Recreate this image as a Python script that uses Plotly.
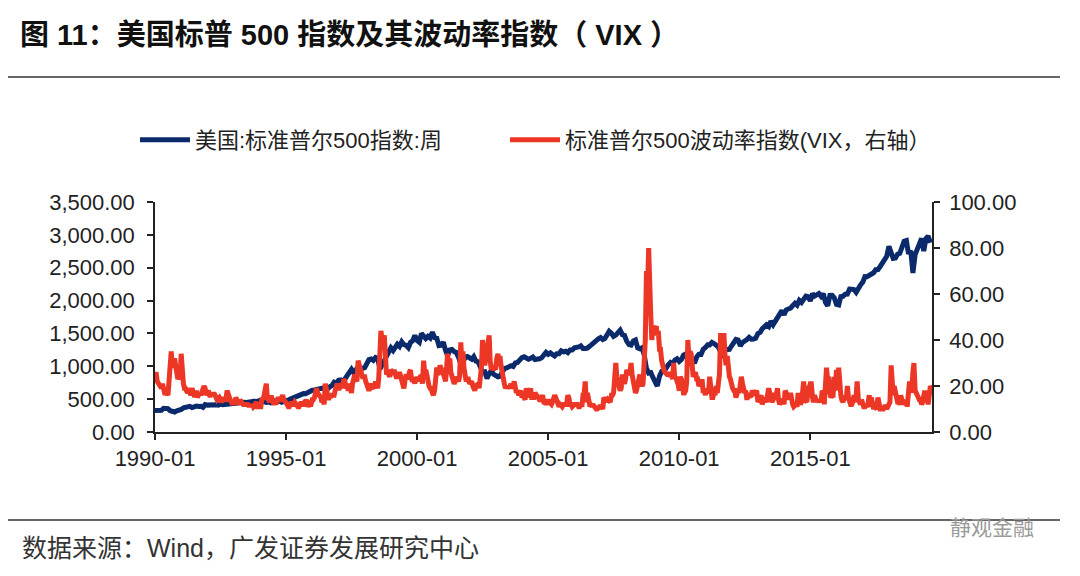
import pandas as pd
import plotly.graph_objects as go

# S&P 500, monthly readings 1990-01 .. 2019-08
spx = [
    329, 331, 339, 331, 361, 358, 356, 323, 306, 304, 322, 330,
    343, 367, 375, 375, 390, 371, 387, 395, 388, 392, 375, 417,
    409, 413, 404, 415, 415, 408, 424, 414, 418, 419, 431, 436,
    439, 443, 452, 440, 450, 451, 448, 464, 459, 468, 462, 466,
    482, 467, 446, 451, 457, 444, 458, 475, 463, 472, 454, 459,
    470, 487, 501, 515, 533, 545, 562, 562, 584, 582, 605, 616,
    636, 640, 646, 654, 669, 671, 640, 652, 687, 705, 757, 741,
    786, 791, 757, 801, 848, 885, 954, 899, 947, 915, 955, 970,
    980, 1049, 1102, 1112, 1091, 1134, 1121, 957, 1017, 1099, 1164, 1229,
    1280, 1238, 1286, 1335, 1302, 1373, 1329, 1320, 1283, 1363, 1389, 1469,
    1394, 1366, 1499, 1452, 1421, 1455, 1431, 1518, 1437, 1429, 1315, 1320,
    1366, 1240, 1160, 1249, 1256, 1224, 1211, 1134, 1041, 1060, 1139, 1148,
    1130, 1107, 1147, 1077, 1067, 990, 912, 916, 815, 886, 936, 880,
    856, 841, 848, 917, 964, 975, 990, 1008, 996, 1051, 1058, 1112,
    1131, 1145, 1126, 1107, 1121, 1141, 1102, 1104, 1115, 1130, 1174, 1212,
    1181, 1204, 1181, 1157, 1192, 1191, 1234, 1220, 1229, 1207, 1249, 1248,
    1280, 1281, 1295, 1311, 1270, 1270, 1277, 1304, 1336, 1378, 1401, 1418,
    1438, 1407, 1421, 1482, 1531, 1503, 1455, 1474, 1527, 1549, 1481, 1468,
    1379, 1331, 1323, 1386, 1400, 1280, 1267, 1283, 1166, 969, 896, 903,
    826, 735, 700, 850, 919, 919, 987, 1021, 1057, 1036, 1096, 1115,
    1074, 1104, 1169, 1187, 1089, 1031, 1102, 1049, 1141, 1183, 1181, 1258,
    1286, 1327, 1326, 1364, 1345, 1321, 1292, 1219, 1131, 1253, 1247, 1258,
    1312, 1366, 1408, 1398, 1310, 1362, 1379, 1407, 1441, 1412, 1416, 1426,
    1498, 1515, 1569, 1598, 1631, 1606, 1686, 1633, 1682, 1757, 1806, 1848,
    1783, 1859, 1872, 1884, 1924, 1960, 1931, 2003, 1972, 2018, 2068, 2059,
    1995, 2105, 2068, 2086, 2107, 2063, 2104, 1972, 1920, 2079, 2080, 2044,
    1940, 1932, 2060, 2065, 2097, 2099, 2174, 2171, 2168, 2126, 2199, 2239,
    2279, 2364, 2363, 2384, 2412, 2423, 2470, 2472, 2519, 2575, 2648, 2674,
    2824, 2714, 2641, 2648, 2705, 2718, 2816, 2902, 2914, 2712, 2760, 2420,
    2700, 2784, 2834, 2946, 2752, 2942, 2980, 2880,
]

# VIX, two readings per month 1990-01 .. 2019-08
vix = [
    24, 26, 22, 21, 20, 20, 19, 21, 18, 17, 17, 17, 16, 22, 30, 35, 28, 30, 32, 29, 26, 23, 24, 23,
    34, 22, 21, 19, 19, 18, 17, 19, 18, 16, 19, 17, 16, 16, 18, 15, 17, 17, 16, 18, 20, 20, 19, 16,
    17, 18, 16, 16, 17, 16, 17, 15, 15, 14, 15, 15, 14, 13, 14, 15, 14, 14, 18, 16, 14, 14, 13, 12,
    13, 12, 15, 14, 13, 12, 14, 13, 13, 12, 12, 12, 12, 12, 11, 12, 11, 12, 11, 12, 13, 13, 11, 11,
    11, 11, 15, 14, 16, 19, 21, 15, 14, 13, 15, 15, 13, 12, 13, 12, 14, 15, 14, 14, 15, 16, 14, 13,
    12, 12, 11, 11, 12, 13, 12, 12, 13, 12, 12, 11, 11, 13, 13, 12, 12, 13, 13, 14, 11, 12, 12, 12,
    14, 14, 15, 17, 19, 17, 16, 15, 15, 13, 14, 12, 21, 19, 15, 14, 16, 15, 16, 16, 16, 18, 20, 21,
    19, 19, 20, 21, 19, 23, 22, 19, 20, 18, 21, 19, 17, 21, 24, 25, 23, 22, 31, 29, 27, 24, 24, 24,
    24, 22, 20, 19, 18, 19, 21, 20, 19, 19, 22, 20, 19, 23, 34, 44, 40, 40, 42, 29, 25, 26, 25, 24,
    27, 26, 26, 27, 24, 24, 24, 24, 26, 24, 23, 21, 19, 22, 25, 24, 23, 26, 27, 23, 22, 23, 21, 24,
    22, 24, 23, 24, 24, 21, 31, 26, 27, 25, 20, 20, 19, 19, 17, 16, 18, 21, 28, 25, 26, 29, 28, 26,
    25, 24, 22, 26, 34, 28, 32, 26, 24, 22, 21, 22, 24, 23, 22, 24, 39, 31, 35, 28, 24, 22, 23, 23,
    21, 22, 22, 20, 19, 18, 20, 21, 21, 19, 25, 28, 40, 32, 29, 32, 36, 39, 42, 31, 27, 28, 27, 28,
    28, 32, 34, 29, 33, 29, 25, 21, 21, 19, 20, 19, 20, 19, 21, 19, 20, 22, 19, 17, 18, 16, 17, 18,
    15, 16, 15, 14, 19, 16, 15, 17, 19, 15, 15, 15, 17, 16, 15, 15, 14, 14, 15, 16, 13, 13, 12, 13,
    14, 13, 12, 12, 13, 14, 16, 15, 14, 13, 11, 12, 11, 11, 12, 12, 12, 12, 16, 15, 12, 12, 11, 12,
    12, 12, 12, 12, 11, 11, 12, 11, 16, 16, 22, 13, 17, 14, 12, 12, 11, 12, 11, 11, 10, 10, 11, 11,
    11, 11, 10, 15, 14, 15, 13, 14, 13, 13, 16, 16, 17, 24, 30, 24, 21, 18, 18, 19, 25, 22, 21, 23,
    27, 26, 25, 26, 30, 25, 22, 20, 17, 18, 22, 23, 25, 22, 20, 21, 31, 40, 70, 60, 80, 55, 50, 40,
    46, 44, 46, 46, 42, 44, 36, 36, 31, 28, 27, 26, 25, 25, 25, 26, 24, 25, 23, 30, 23, 24, 22, 21,
    18, 24, 23, 19, 17, 17, 18, 22, 40, 32, 35, 34, 26, 24, 25, 26, 23, 23, 20, 21, 20, 23, 17, 18,
    16, 19, 17, 18, 24, 17, 15, 15, 17, 16, 20, 17, 20, 25, 43, 35, 38, 43, 33, 29, 33, 27, 24, 23,
    20, 19, 18, 18, 15, 16, 18, 17, 22, 24, 21, 17, 17, 18, 14, 17, 15, 16, 16, 18, 16, 16, 17, 18,
    13, 14, 14, 16, 12, 13, 15, 14, 13, 16, 19, 17, 14, 13, 14, 17, 14, 16, 19, 14, 12, 13, 14, 14,
    12, 18, 17, 14, 17, 14, 17, 13, 12, 11, 12, 12, 11, 17, 14, 12, 13, 16, 22, 14, 13, 13, 19, 19,
    21, 21, 15, 13, 16, 15, 13, 14, 13, 14, 13, 18, 17, 12, 28, 28, 22, 24, 17, 15, 16, 16, 24, 18,
    27, 20, 28, 20, 16, 14, 13, 15, 15, 14, 20, 15, 13, 12, 12, 13, 16, 13, 16, 22, 14, 13, 12, 14,
    11, 11, 11, 12, 11, 12, 16, 11, 15, 10, 10, 11, 10, 10, 15, 11, 10, 10, 10, 10, 11, 11, 10, 11,
    11, 13, 29, 20, 16, 20, 16, 15, 13, 13, 12, 16, 13, 12, 13, 12, 12, 12, 20, 22, 18, 18, 26, 30,
    18, 17, 15, 15, 14, 14, 12, 13, 16, 18, 15, 15, 12, 16, 20, 19,
]

spx_dates = pd.date_range("1990-01-01", periods=len(spx), freq="MS")
vix_dates = pd.date_range("1990-01-01", periods=len(vix), freq="SMS")

spx_name = "美国:标准普尔500指数:周"
vix_name = "标准普尔500波动率指数(VIX，右轴）"
title_text = "图 11：美国标普 500 指数及其波动率指数（ VIX ）"
source_text = "数据来源：Wind，广发证券发展研究中心"

BLUE = "#0b2a6b"
RED = "#ec3626"
FONT = "Liberation Sans, Arial, Noto Sans CJK SC, sans-serif"

fig = go.Figure()
fig.add_trace(go.Scatter(x=spx_dates, y=spx, name=spx_name, mode="lines",
                         line=dict(color=BLUE, width=5), yaxis="y", legend="legend"))
fig.add_trace(go.Scatter(x=vix_dates, y=vix, name=vix_name, mode="lines",
                         line=dict(color=RED, width=5), yaxis="y2", legend="legend2"))

OFF = 8  # browser body margin
L, R, T, B = 155 - OFF, 932 - OFF, 202 - OFF, 432 - OFF
W, H = 1080, 576


def px(xp):
    return (xp - OFF - L) / (R - L)


def py(yp):
    return (B - (yp - OFF)) / (B - T)


axis_common = dict(showgrid=False, zeroline=False, showline=True, linecolor="#222",
                   linewidth=1.5, ticks="outside", ticklen=6, tickcolor="#222",
                   tickwidth=1.5, tickfont=dict(size=22, color="#222", family=FONT))

legend_common = dict(orientation="h", y=py(140), xanchor="left", yanchor="middle",
                     font=dict(size=22, color="#222", family=FONT),
                     bgcolor="rgba(0,0,0,0)", itemwidth=50)

fig.update_layout(
    width=W, height=H,
    margin=dict(l=L, r=W - R, t=T, b=H - B, pad=0),
    paper_bgcolor="white", plot_bgcolor="white",
    font=dict(family=FONT, color="#222"),
    xaxis=dict(type="date", range=["1990-01-01", "2019-08-24"], tickformat="%Y-%m",
               tick0="1990-01-01", dtick="M60", **axis_common),
    yaxis=dict(range=[0, 3500], dtick=500, tickformat=",.2f", ticklabelstandoff=8,
               **axis_common),
    yaxis2=dict(range=[0, 100], dtick=20, tickformat=".2f", overlaying="y", side="right",
                ticklabelstandoff=5, **axis_common),
    legend=dict(x=px(135), **legend_common),
    legend2=dict(x=px(505), **legend_common),
    showlegend=True,
)

fig.add_shape(type="line", xref="paper", yref="paper", x0=px(8), x1=px(1060),
              y0=py(77), y1=py(77), line=dict(color="#333", width=1.5))
fig.add_shape(type="line", xref="paper", yref="paper", x0=px(8), x1=px(1060),
              y0=py(520), y1=py(520), line=dict(color="#333", width=1.5))

fig.add_annotation(text="<b>" + title_text + "</b>", xref="paper", yref="paper",
                   x=px(18), y=py(35), xanchor="left", yanchor="middle", showarrow=False,
                   font=dict(size=29, color="#111", family=FONT))
fig.add_annotation(text=source_text, xref="paper", yref="paper",
                   x=px(20), y=py(548), xanchor="left", yanchor="middle", showarrow=False,
                   font=dict(size=25, color="#333", family=FONT))
fig.add_annotation(text="静观金融", xref="paper", yref="paper",
                   x=px(992), y=py(527), xanchor="center", yanchor="middle", showarrow=False,
                   font=dict(size=21, color="#9a9a9a", family=FONT))

fig.write_html("out.html")
